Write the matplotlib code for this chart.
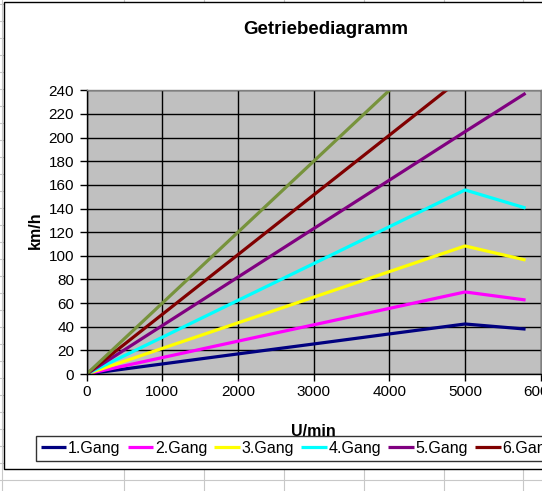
import numpy as np
import matplotlib.pyplot as plt
from matplotlib.patches import Rectangle
from matplotlib.lines import Line2D

plt.rcParams['font.family'] = ['Liberation Sans', 'DejaVu Sans']

# Drehzahl (U/min)
drehzahl = [0, 1000, 2000, 3000, 4000, 5000, 5800]
# Geschwindigkeit (km/h) je Gang
gang1 = [0, 8.5, 17, 25.4, 33.9, 42.3, 38]
gang2 = [0, 13.9, 27.8, 41.6, 55.5, 69.4, 62.6]
gang3 = [0, 21.7, 43.3, 65, 86.6, 108.3, 96.4]
gang4 = [0, 31.1, 62.3, 93.4, 124.6, 155.7, 140.4]
gang5 = [0, 41, 82, 123, 164, 205, 237.5]
gang6 = [0, 50.5, 101, 151.5, 202, 252.5, 293]
gang7 = [0, 60, 120, 180, 240, 300, 348]

namen = ['1.Gang', '2.Gang', '3.Gang', '4.Gang', '5.Gang', '6.Gang', '7.Gang']
farben = ['#000080', '#FF00FF', '#FFFF00', '#00FFFF', '#800080', '#800000', '#77933C']
reihen = [gang1, gang2, gang3, gang4, gang5, gang6, gang7]

W, H = 542, 491
fig = plt.figure(figsize=(W / 100, H / 100), dpi=100)

# Excel-Zellgitter hinter dem Diagramm
for x in [2, 124, 204, 284, 364, 444, 523]:
    fig.add_artist(Line2D([x / W, x / W], [0, 1], color='#C8C8C8', lw=0.8, zorder=-3))
for y in range(4, H, 17):
    fig.add_artist(Line2D([0, 1], [1 - y / H, 1 - y / H], color='#C8C8C8', lw=0.8, zorder=-3))

# Diagrammbereich
fig.add_artist(Rectangle((4 / W, 1 - 469 / H), 1, 467 / H, facecolor='white',
                         edgecolor='black', lw=1.0, zorder=-2))

ax = fig.add_axes([86.7 / W, 1 - 374 / H, 454 / W, 283.7 / H])
ax.set_zorder(1)
ax.set_facecolor('#C0C0C0')
for name, farbe, werte in zip(namen, farben, reihen):
    ax.plot(drehzahl, werte, color=farbe, lw=2.3, label=name, solid_capstyle='butt')

ax.set_xlim(0, 6000)
ax.set_ylim(0, 240)
ax.set_xticks(np.arange(0, 6001, 1000))
ax.set_yticks(np.arange(0, 241, 20))
ax.grid(True, color='black', lw=1.0)
ax.set_axisbelow(True)
ax.tick_params(labelsize=11, length=5, width=1, direction='out', pad=3)
ax.tick_params(axis='y', pad=4)
for s in ax.spines.values():
    s.set_color('black')
    s.set_linewidth(1.0)
ax.spines['top'].set_color('#808080')
ax.spines['right'].set_color('#808080')

fig.text(326 / W, 1 - 30 / H, 'Getriebediagramm', fontsize=13.5, fontweight='bold',
         ha='center', va='center')
fig.text(313 / W, 1 - 432 / H, 'U/min', fontsize=11.5, fontweight='bold',
         ha='center', va='center')
fig.text(35 / W, 1 - 230 / H, 'km/h', fontsize=11.5, fontweight='bold',
         ha='center', va='center', rotation=90)

leg = fig.legend(loc='upper left', bbox_to_anchor=(36 / W, 1 - 436 / H), ncol=7,
                 fontsize=11.5, frameon=True, fancybox=False, borderpad=0.3,
                 handlelength=1.6, handletextpad=0.1, columnspacing=0.45,
                 borderaxespad=0)
leg.get_frame().set_edgecolor('black')
leg.get_frame().set_linewidth(1.0)
leg.set_zorder(2)

fig.savefig('out.png', dpi=100)
